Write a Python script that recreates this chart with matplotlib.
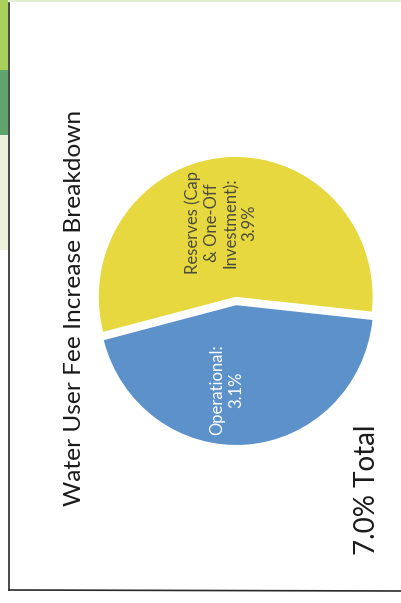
import matplotlib.pyplot as plt
from matplotlib.patches import Rectangle
from matplotlib.lines import Line2D

# fee increase components, in percent
categories = ['Operational', 'Reserves (Cap\n& One-Off\nInvestment)']
values = [3.1, 3.9]
total = sum(values)
slice_colors = ['#5d91ca', '#e6d83e']
label_colors = ['white', '#4b4b3c']

W, H = 402, 603
fig = plt.figure(figsize=(W / 100, H / 100), dpi=100)
fig.patch.set_facecolor('white')
plt.rcParams['font.family'] = ['Lato', 'DejaVu Sans']

# page edge showing the green cover sheet underneath
def px_rect(x0, y0, x1, y1, color, alpha=1.0):
    fig.patches.append(Rectangle((x0 / W, 1 - y1 / H), (x1 - x0) / W, (y1 - y0) / H,
                                 transform=fig.transFigure, color=color, alpha=alpha, lw=0))

px_rect(0, 0, 8, 70, '#a9d05a')
px_rect(0, 70, 8, 135, '#5fa46a')
px_rect(0, 135, 8, 250, '#d7e6b8', alpha=0.5)
px_rect(8, 0, W, 2, '#c8dca8', alpha=0.5)

# chart frame
fig.lines.append(Line2D([9 / W, 9 / W], [1 - 3 / H, 1 - 590 / H],
                        transform=fig.transFigure, color='#2a2a2a', lw=1.2))
fig.lines.append(Line2D([9 / W, 1], [1 - 590 / H, 1 - 591 / H],
                        transform=fig.transFigure, color='#2a2a2a', lw=1.2))

# pie, drawn sideways like the printed page
cx, cy, rx, ry = 236, 301, 141, 144
ax = fig.add_axes([(cx - rx) / W, 1 - (cy + ry) / H, 2 * rx / W, 2 * ry / H])
wedges, _ = ax.pie(values, colors=slice_colors, startangle=194.5, counterclock=True,
                   explode=[0.03, 0.03], radius=1.0,
                   wedgeprops=dict(linewidth=0))
ax.set_xlim(-1.03, 1.03)
ax.set_ylim(-1.03, 1.03)
ax.set_aspect('auto')
ax.axis('off')
for w in wedges:
    w.set_clip_on(False)

label_pos = [(227, 390), (221, 223)]
for name, v, col, (lx, ly) in zip(categories, values, label_colors, label_pos):
    fig.text(lx / W, 1 - ly / H, '%s:\n%.1f%%' % (name, v), rotation=90,
             ha='center', va='center', color=col, fontsize=12,
             linespacing=1.2, multialignment='center')

fig.text(75 / W, 1 - 308 / H, 'Water User Fee Increase Breakdown', rotation=90,
         ha='center', va='center', fontsize=17.6, color='#1a1a1a')
fig.text(367 / W, 1 - 490 / H, '%.1f%% Total' % total, rotation=90,
         ha='center', va='center', fontsize=20, color='#1a1a1a')

fig.savefig('out.png', dpi=100)
